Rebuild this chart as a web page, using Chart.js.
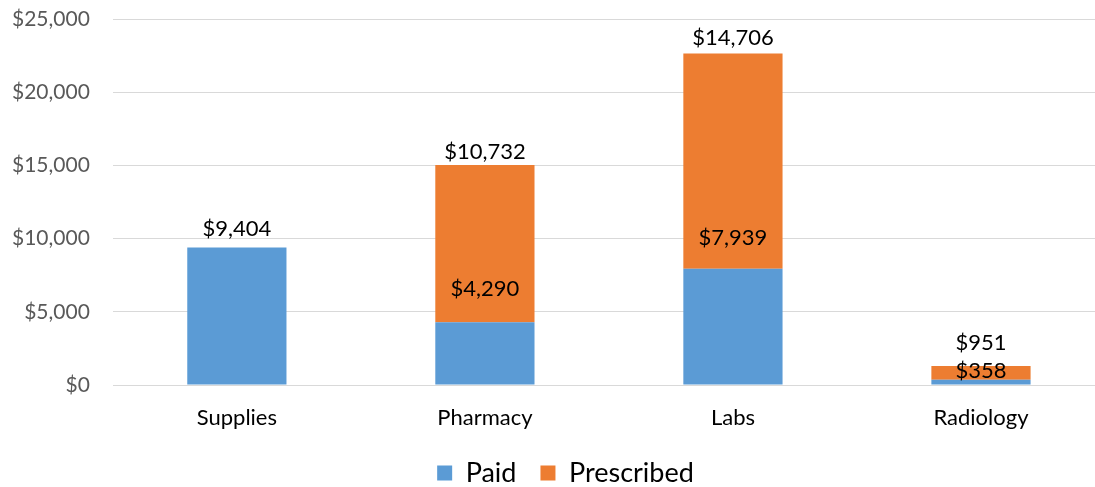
<!DOCTYPE html>
<html>
<head>
<meta charset="utf-8">
<script src="https://cdn.jsdelivr.net/npm/chart.js@4/dist/chart.umd.min.js"></script>
<style>
  html, body { margin: 0; padding: 0; background: #fff; overflow: hidden; }
  /* the original is cropped: its plot runs ~10px past the right edge */
  #wrap { width: 1105px; height: 487px; position: relative; }
</style>
</head>
<body>
<div id="wrap"><canvas id="costChart"></canvas></div>
<script>
// chart data
const categories = ["Supplies", "Pharmacy", "Labs", "Radiology"];
const paid = [9404, 4290, 7939, 358];
const prescribed = [0, 10732, 14706, 951];
const yTicks = [0, 5000, 10000, 15000, 20000, 25000];

// how far above each segment top the value label sits (px)
const paidLift = [18, 33, 31, 9];
const prescribedLift = [0, 13, 16, 23];

const FONT = "Lato, 'Liberation Sans', sans-serif";

const money = v => "$" + Number(v).toLocaleString("en-US");

// draws the "$x,xxx" labels over the bars
const valueLabels = {
  id: "valueLabels",
  afterLayout(chart) {
    // original legend sits a bit right of centre
    chart.legend.left += 7;
    chart.legend.right += 7;
  },
  afterDatasetsDraw(chart) {
    const ctx = chart.ctx;
    ctx.save();
    ctx.font = "22px " + FONT;
    ctx.fillStyle = "#000";
    ctx.textAlign = "center";
    ctx.textBaseline = "middle";
    chart.data.datasets.forEach((ds, di) => {
      const meta = chart.getDatasetMeta(di);
      const lifts = di === 0 ? paidLift : prescribedLift;
      meta.data.forEach((bar, i) => {
        const v = ds.data[i];
        if (!v) return;
        ctx.fillText(money(v), bar.x, bar.y - lifts[i]);
      });
    });
    ctx.restore();
  }
};

new Chart(document.getElementById("costChart"), {
  type: "bar",
  data: {
    labels: categories,
    datasets: [
      { label: "Paid", data: paid, backgroundColor: "#5B9BD5" },
      { label: "Prescribed", data: prescribed, backgroundColor: "#ED7D31" }
    ]
  },
  options: {
    responsive: true,
    maintainAspectRatio: false,
    animation: false,
    layout: { padding: { top: 19, right: 0, left: 12, bottom: -9.5 } },
    datasets: { bar: { categoryPercentage: 1, barPercentage: 0.4 } },
    scales: {
      x: {
        stacked: true,
        grid: { display: false, drawTicks: false },
        border: { display: false },
        ticks: { color: "#000", font: { family: FONT, size: 22 }, padding: 20 },
        afterFit: axis => { axis.height -= 16; }
      },
      y: {
        stacked: true,
        min: 0,
        max: 25000,
        afterBuildTicks: axis => { axis.ticks = yTicks.map(v => ({ value: v })); },
        grid: { color: "#d9d9d9", lineWidth: 1, drawTicks: true, tickLength: 23, tickColor: "rgba(0,0,0,0)" },
        border: { display: false },
        ticks: { color: "#595959", font: { family: FONT, size: 21 }, padding: 0, callback: v => money(v) }
      }
    },
    plugins: {
      legend: {
        position: "bottom",
        labels: {
          color: "#000",
          font: { family: FONT, size: 27 },
          boxWidth: 15,
          boxHeight: 15,
          padding: 24
        }
      },
      tooltip: { enabled: false }
    }
  },
  plugins: [valueLabels]
});
</script>
</body>
</html>
